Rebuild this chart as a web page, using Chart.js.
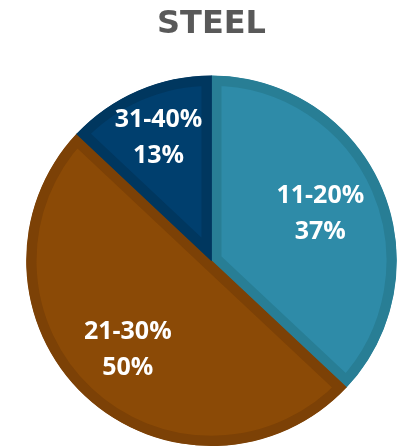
<!DOCTYPE html>
<html>
<head>
<meta charset="utf-8">
<script src="https://cdn.jsdelivr.net/npm/chart.js@4"></script>
<style>html,body{margin:0;padding:0;background:#fff;}</style>
</head>
<body>
<canvas id="steelChart" width="404" height="446"></canvas>
<script>
// 데이터
const titleText = 'STEEL';
const categories = ['11-20%', '21-30%', '31-40%'];
const shares = [37, 50, 13];
const fillColors = ['#2E8BA8', '#8B4A06', '#003F6E'];
const edgeColors = ['#287E95', '#7C4106', '#00375F'];
const labelDistance = [0.64, 0.66, 0.72];

// 조각 안에 라벨 그리기
const sliceLabels = {
    id: 'sliceLabels',
    afterDatasetsDraw(chart) {
        const ctx = chart.ctx;
        const meta = chart.getDatasetMeta(0);
        ctx.save();
        ctx.fillStyle = '#ffffff';
        ctx.font = 'bold 25px "Open Sans"';
        ctx.textAlign = 'center';
        ctx.textBaseline = 'middle';
        meta.data.forEach(function (arc, i) {
            const p = arc.getProps(['x', 'y', 'startAngle', 'endAngle', 'outerRadius'], true);
            const mid = (p.startAngle + p.endAngle) / 2;
            const r = p.outerRadius * labelDistance[i];
            const x = p.x + Math.cos(mid) * r;
            const y = p.y + Math.sin(mid) * r;
            ctx.fillText(categories[i], x, y - 18);
            ctx.fillText(shares[i] + '%', x, y + 18);
        });
        ctx.restore();
    }
};

new Chart(document.getElementById('steelChart'), {
    type: 'pie',
    data: {
        labels: categories,
        datasets: [{
            data: shares,
            backgroundColor: fillColors,
            borderColor: edgeColors,
            borderWidth: 10,
            borderAlign: 'inner'
        }]
    },
    options: {
        responsive: false,
        animation: false,
        layout: { padding: { left: 19, top: 0, right: 0, bottom: 0 } },
        plugins: {
            legend: { display: false },
            tooltip: { enabled: false },
            title: {
                display: true,
                text: titleText,
                color: '#595959',
                font: { family: 'DejaVu Sans', size: 32, weight: 'bold' },
                padding: { top: 5, bottom: 32 }
            }
        }
    },
    plugins: [sliceLabels]
});
</script>
</body>
</html>
